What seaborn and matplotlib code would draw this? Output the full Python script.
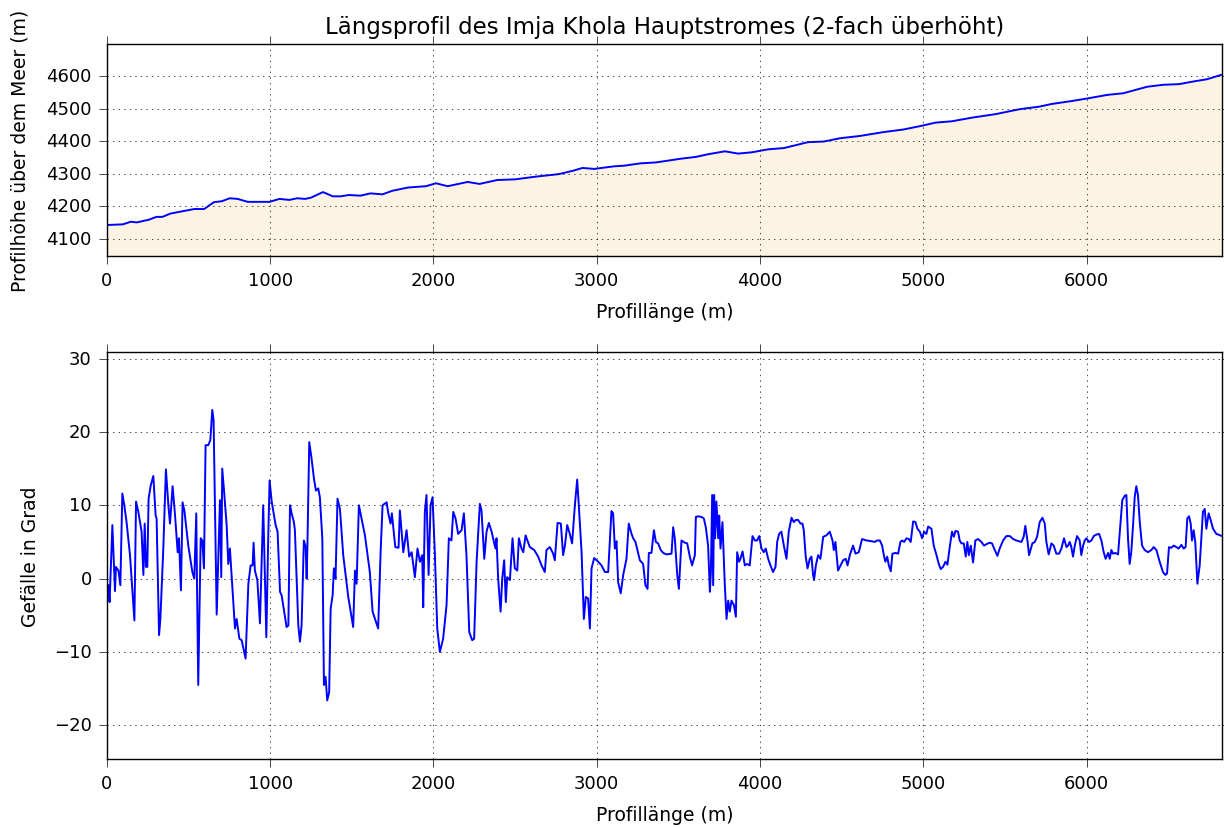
import matplotlib
matplotlib.use("Agg")
import matplotlib.pyplot as plt
import seaborn as sns

# Längsprofil: (Distanz m, Höhe m ü. M.)
hoehe_0_3000 = [
    (0, 4143), (97, 4145), (146, 4153), (182, 4151), (255, 4159), (303, 4168),
    (340, 4168), (388, 4178), (461, 4185), (534, 4192), (595, 4192), (655, 4213),
    (704, 4216), (752, 4225), (801, 4223), (862, 4214), (995, 4214), (1056, 4223),
    (1117, 4220), (1165, 4225), (1214, 4223), (1250, 4227), (1323, 4244),
    (1383, 4231), (1432, 4231), (1481, 4235), (1553, 4233), (1614, 4240),
    (1687, 4237), (1748, 4248), (1845, 4258), (1954, 4262), (2015, 4271),
    (2087, 4262), (2209, 4275), (2282, 4269), (2391, 4281), (2500, 4283),
    (2621, 4291), (2767, 4299), (2852, 4309), (2913, 4318), (2985, 4315),
]
hoehe_3000_ende = [
    (3107, 4323), (3169, 4325), (3267, 4332), (3364, 4335), (3511, 4346),
    (3609, 4352), (3682, 4360), (3785, 4369), (3866, 4362), (3951, 4366),
    (4049, 4375), (4147, 4379), (4293, 4397), (4391, 4399), (4489, 4409),
    (4611, 4416), (4758, 4428), (4880, 4436), (4978, 4446), (5076, 4457),
    (5174, 4461), (5296, 4472), (5443, 4483), (5589, 4498), (5711, 4506),
    (5785, 4514), (5907, 4523), (6005, 4531), (6127, 4542), (6225, 4547),
    (6298, 4557), (6372, 4567), (6469, 4573), (6567, 4575), (6665, 4584),
    (6738, 4590), (6830, 4604),
]

# Gefälle in Grad: (Distanz m, Grad)
gefaelle_0_1100 = [
    (8, -0.9), (16, -3.2), (33, 7.3), (49, -1.7), (55, 1.6), (70, 1.1), (82, -0.9),
    (94, 11.6), (106, 10.0), (120, 7.7), (141, 3.2), (168, -5.7), (178, 10.5),
    (192, 9.1), (212, 6.4), (223, 0.5), (231, 7.5), (239, 1.6), (247, 1.6),
    (255, 10.9), (268, 12.7), (284, 14.0), (298, 8.6), (304, 8.2), (319, -7.7),
    (327, -5.5), (345, 4.1), (361, 14.9), (376, 10.0), (386, 7.5), (402, 12.6),
    (417, 8.6), (433, 3.6), (441, 5.5), (453, -1.6), (463, 10.4), (474, 9.3),
    (498, 4.5), (523, 0.9), (535, 0.0), (547, 8.9), (551, 0.0), (559, -14.5),
    (574, 5.5), (584, 5.2), (594, 1.4), (604, 18.2), (621, 18.2), (633, 18.9),
    (645, 23.0), (653, 21.6), (672, -4.9), (692, 10.7), (700, 0.2), (706, 15.0),
    (719, 11.4), (733, 7.3), (743, 2.0), (753, 4.1), (784, -6.8), (794, -5.5),
    (811, -8.2), (825, -8.4), (849, -10.9), (866, -0.7), (880, 1.8), (892, 1.8),
    (898, 4.9), (906, 1.1), (921, -0.2), (937, -6.1), (957, 10.0), (976, -8.0),
    (988, 5.9), (996, 13.4), (1009, 10.5), (1033, 7.3), (1045, 6.4), (1060, -1.8),
    (1070, -2.3), (1100, -6.6),
]
gefaelle_1100_2250 = [
    (1111, -6.4), (1121, 10.0), (1131, 8.9), (1145, 7.7), (1151, 6.6),
    (1172, -6.4), (1182, -8.6), (1192, -6.4), (1206, 5.2), (1217, 4.3),
    (1223, 0.0), (1227, 3.6), (1239, 18.6), (1253, 16.4), (1268, 13.6),
    (1280, 12.0), (1294, 12.3), (1304, 11.1), (1319, 5.5), (1329, -14.5),
    (1339, -13.4), (1349, -16.6), (1361, -15.5), (1370, -4.1), (1382, -2.3),
    (1390, 1.4), (1400, 0.0), (1412, 10.9), (1427, 9.5), (1447, 3.2),
    (1478, -2.5), (1508, -6.6), (1519, 1.1), (1529, -0.7), (1543, 10.0),
    (1580, 5.9), (1610, 0.9), (1627, -4.5), (1661, -6.8), (1676, 3.6),
    (1688, 10.0), (1713, 10.4), (1723, 8.9), (1737, 7.5), (1745, 8.9),
    (1766, 4.3), (1786, 4.2), (1794, 9.3), (1815, 3.6), (1835, 6.6), (1851, 3.0),
    (1866, 3.6), (1886, 0.2), (1902, 4.1), (1917, 2.3), (1931, 3.2),
    (1937, -3.9), (1947, 9.1), (1957, 11.4), (1970, 0.5), (1982, 10.0),
    (1994, 11.1), (2008, 3.6), (2023, -6.8), (2039, -10.0), (2059, -8.2),
    (2080, -3.6), (2094, 5.5), (2110, 5.2), (2121, 9.1), (2135, 8.2),
    (2151, 6.1), (2172, 6.6), (2186, 8.9), (2202, 3.2), (2219, -7.3),
    (2237, -8.4), (2249, -8.2),
]
gefaelle_2250_3400 = [
    (2264, 2.3), (2284, 10.2), (2294, 9.3), (2311, 2.7), (2325, 6.4),
    (2339, 7.6), (2356, 6.4), (2370, 5.0), (2380, 4.1), (2386, 5.5),
    (2396, 0.0), (2411, -4.5), (2421, 0.0), (2433, 2.5), (2443, -3.2),
    (2451, 0.2), (2468, -0.2), (2484, 5.5), (2498, 1.4), (2513, 1.1),
    (2523, 5.5), (2539, 4.1), (2550, 3.6), (2564, 5.9), (2590, 4.3),
    (2617, 3.9), (2641, 3.0), (2662, 1.8), (2682, 0.9), (2692, 3.9),
    (2713, 4.3), (2733, 3.4), (2743, 2.5), (2760, 7.6), (2780, 7.5),
    (2794, 3.2), (2805, 4.5), (2819, 7.3), (2835, 6.1), (2849, 4.8),
    (2866, 10.0), (2880, 13.5), (2890, 10.0), (2907, 3.6), (2921, -5.5),
    (2933, -2.5), (2947, -2.7), (2958, -6.8), (2968, 1.4), (2984, 2.8),
    (3009, 2.3), (3029, 1.8), (3050, 0.9), (3070, 0.9), (3090, 9.2),
    (3100, 8.9), (3111, 4.1), (3121, 5.1), (3131, -0.5), (3147, -2.0),
    (3162, 0.5), (3182, 2.7), (3196, 7.5), (3213, 6.1), (3223, 5.5),
    (3237, 5.0), (3247, 4.1), (3264, 2.5), (3284, 2.0), (3298, -0.9),
    (3311, -1.4), (3319, 3.5), (3335, 3.5), (3350, 6.6), (3362, 5.0),
    (3376, 4.8), (3392, 3.9),
]
gefaelle_3400_4520 = [
    (3407, 3.5), (3427, 3.3), (3458, 3.4), (3468, 7.0), (3478, 5.5),
    (3493, 0.5), (3503, -1.4), (3519, 5.2), (3539, 4.9), (3554, 4.8),
    (3570, 3.0), (3584, 1.8), (3601, 3.2), (3607, 8.4), (3621, 8.5),
    (3642, 8.4), (3656, 8.2), (3668, 7.0), (3682, 4.5), (3693, -1.8),
    (3699, 0.9), (3707, 11.4), (3713, -0.9), (3719, 11.4), (3725, 5.5),
    (3733, 10.5), (3744, 5.5), (3750, 8.6), (3758, 4.1), (3770, 7.7),
    (3784, -0.7), (3795, -5.5), (3805, -3.0), (3815, -4.5), (3825, -3.0),
    (3840, -3.6), (3852, -5.2), (3860, 3.6), (3872, 2.3), (3880, 2.7),
    (3893, 3.7), (3907, 1.8), (3921, 2.0), (3937, 1.8), (3954, 5.8),
    (3968, 5.2), (3982, 5.2), (3995, 5.8), (4009, 4.1), (4023, 3.6),
    (4035, 4.1), (4050, 2.7), (4064, 1.8), (4080, 0.9), (4095, 1.6),
    (4105, 5.0), (4117, 6.1), (4131, 6.4), (4146, 4.5), (4162, 2.7),
    (4176, 6.4), (4193, 8.3), (4207, 7.7), (4219, 8.0), (4233, 8.0),
    (4248, 7.5), (4260, 7.5), (4268, 6.6), (4280, 3.0), (4291, 1.4),
    (4305, 2.7), (4315, 3.0), (4325, 0.5), (4331, -0.2), (4342, 1.8),
    (4356, 3.2), (4370, 2.7), (4387, 5.7), (4407, 5.9), (4427, 6.4),
    (4444, 5.2), (4452, 3.9), (4462, 5.0), (4478, 1.1), (4489, 1.6),
    (4509, 2.5),
]
gefaelle_4520_5680 = [
    (4525, 2.7), (4536, 1.8), (4550, 3.2), (4570, 4.5), (4585, 3.4),
    (4605, 3.6), (4625, 5.4), (4652, 5.2), (4683, 5.1), (4703, 5.0),
    (4717, 5.2), (4734, 5.2), (4748, 4.5), (4760, 3.0), (4768, 2.3),
    (4779, 3.0), (4789, 1.8), (4801, 1.0), (4811, 3.4), (4830, 3.5),
    (4846, 3.4), (4860, 5.0), (4870, 5.2), (4883, 5.0), (4897, 5.5),
    (4911, 5.4), (4923, 5.0), (4938, 7.8), (4952, 7.7), (4964, 6.8),
    (4979, 6.4), (4993, 5.5), (5005, 6.4), (5019, 6.1), (5030, 7.1),
    (5050, 6.8), (5064, 4.5), (5081, 3.2), (5095, 2.0), (5107, 1.3),
    (5121, 1.6), (5136, 2.3), (5148, 1.9), (5162, 4.3), (5176, 6.4),
    (5187, 5.7), (5197, 6.5), (5213, 6.4), (5223, 5.2), (5234, 4.8),
    (5248, 4.8), (5260, 3.0), (5270, 5.0), (5279, 3.2), (5291, 4.5),
    (5305, 2.2), (5319, 5.2), (5336, 5.4), (5356, 5.0), (5372, 4.5),
    (5387, 4.7), (5407, 4.9), (5421, 4.8), (5434, 4.1), (5454, 3.1),
    (5468, 4.1), (5489, 5.2), (5509, 5.8), (5530, 5.8), (5550, 5.4),
    (5570, 5.2), (5601, 5.0), (5615, 5.7), (5625, 7.2), (5638, 5.2),
    (5648, 3.2), (5668, 4.8),
]
gefaelle_5680_ende = [
    (5683, 5.0), (5697, 5.7), (5713, 7.7), (5730, 8.3), (5744, 7.5),
    (5754, 5.0), (5768, 3.3), (5785, 4.8), (5799, 4.5), (5815, 3.4),
    (5832, 3.4), (5846, 4.1), (5862, 5.5), (5877, 4.3), (5887, 4.5),
    (5897, 5.0), (5907, 4.3), (5917, 3.0), (5928, 4.5), (5942, 5.8),
    (5958, 5.2), (5968, 3.2), (5979, 4.5), (5989, 5.2), (5999, 5.5),
    (6015, 5.0), (6030, 5.2), (6044, 5.8), (6060, 6.0), (6077, 6.1),
    (6091, 5.2), (6105, 3.6), (6117, 2.7), (6132, 3.5), (6142, 2.7),
    (6152, 3.9), (6162, 3.4), (6177, 3.5), (6193, 3.3), (6207, 7.3),
    (6219, 10.7), (6234, 11.3), (6244, 11.4), (6254, 5.5), (6264, 2.0),
    (6274, 3.6), (6285, 7.3), (6295, 11.1), (6305, 12.6), (6315, 11.4),
    (6326, 7.7), (6340, 4.5), (6356, 3.9), (6377, 3.6), (6397, 3.9),
    (6411, 4.3), (6428, 3.9), (6448, 2.3), (6468, 0.9), (6483, 0.5),
    (6493, 0.7), (6505, 4.3), (6519, 4.2), (6534, 4.5), (6550, 4.3),
    (6564, 4.1), (6581, 4.6), (6595, 4.1), (6607, 4.3), (6617, 8.2),
    (6628, 8.5), (6638, 7.5), (6646, 5.2), (6656, 6.6), (6666, 5.0),
    (6679, -0.7), (6693, 1.8), (6703, 5.5), (6713, 9.1), (6724, 9.5),
    (6734, 6.8), (6748, 8.9), (6760, 8.0), (6775, 6.8), (6795, 6.1),
    (6819, 5.9), (6830, 5.8),
]

hoehe = hoehe_0_3000 + hoehe_3000_ende
gefaelle = (gefaelle_0_1100 + gefaelle_1100_2250 + gefaelle_2250_3400
            + gefaelle_3400_4520 + gefaelle_4520_5680 + gefaelle_5680_ende)
hoehe_x = [p[0] for p in hoehe]
hoehe_y = [p[1] for p in hoehe]
gef_x = [p[0] for p in gefaelle]
gef_y = [p[1] for p in gefaelle]

plt.style.use("classic")
plt.rcParams.update({
    "figure.facecolor": "white",
    "savefig.facecolor": "white",
    "xtick.direction": "out",
    "ytick.direction": "out",
    "xtick.major.size": 6,
    "ytick.major.size": 6,
    "xtick.major.pad": 5,
    "ytick.major.pad": 5,
    "xtick.labelsize": 13,
    "ytick.labelsize": 13,
    "axes.labelsize": 13.5,
    "axes.titlesize": 16.5,
    "font.family": ["DejaVu Sans"],
})

fig = plt.figure(figsize=(12.24, 8.29), dpi=100)
ax1 = fig.add_axes([0.0874, 0.690, 0.911, 0.2557])
ax2 = fig.add_axes([0.0874, 0.0832, 0.911, 0.491])

ax1.fill_between(hoehe_x, hoehe_y, 4000, color="#fdf3e3", linewidth=0)
sns.lineplot(x=hoehe_x, y=hoehe_y, ax=ax1, color="b", linewidth=1.4, estimator=None)
ax1.set_xlim(0, 6830)
ax1.set_ylim(4048, 4698)
ax1.set_yticks([4100, 4200, 4300, 4400, 4500, 4600])
ax1.set_xticks([0, 1000, 2000, 3000, 4000, 5000, 6000])
ax1.grid(True)
ax1.set_title("Längsprofil des Imja Khola Hauptstromes (2-fach überhöht)", pad=8)
ax1.set_xlabel("Profillänge (m)", labelpad=9)
ax1.set_ylabel("Profilhöhe über dem Meer (m)", labelpad=12)

sns.lineplot(x=gef_x, y=gef_y, ax=ax2, color="b", linewidth=1.4, estimator=None)
ax2.set_xlim(0, 6830)
ax2.set_ylim(-24.6, 30.9)
ax2.set_yticks([-20, -10, 0, 10, 20, 30])
ax2.set_xticks([0, 1000, 2000, 3000, 4000, 5000, 6000])
ax2.grid(True)
ax2.set_xlabel("Profillänge (m)", labelpad=9)
ax2.set_ylabel("Gefälle in Grad", labelpad=10)

fig.savefig("out.png", dpi=100)
